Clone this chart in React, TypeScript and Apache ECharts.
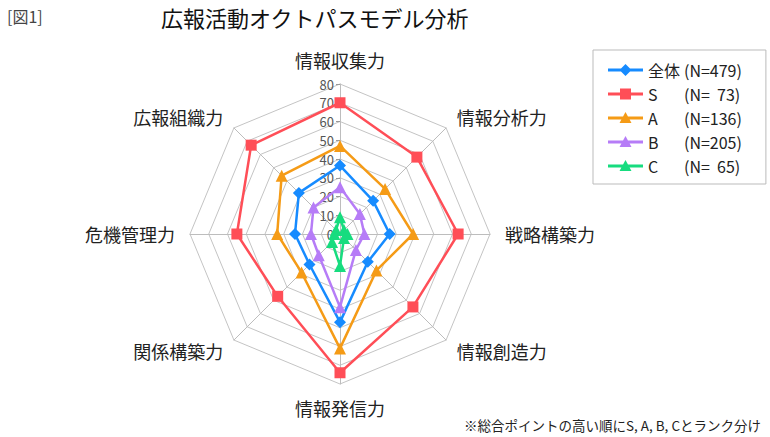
import React, { useEffect, useRef } from 'react'
import * as echarts from 'echarts'

// axes, counter-clockwise from the top (ECharts radar order)
const indicators = ['情報収集力', '広報組織力', '危機管理力', '関係構築力', '情報発信力', '情報創造力', '戦略構築力', '情報分析力']

const seriesNames = ['全体', 'S', 'A', 'B', 'C']
const seriesCounts = ['(N=479)', '(N=  73)', '(N=136)', '(N=205)', '(N=  65)']

const allValues = [36.5, 31, 24, 23, 47, 21, 26.5, 25]
const sValues = [70, 67, 55, 47, 74, 55, 63, 58]
const aValues = [47, 44, 33.5, 29, 61, 27.5, 39, 34]
const bValues = [25, 20, 15.5, 16, 39, 12, 13, 15]
const cValues = [9, 3, 3, 6, 17, 3, 4, 3]

const colors = ['#168BFF', '#FF4E57', '#F59B16', '#B67CF7', '#17DC7F']
const symbols = ['diamond', 'rect', 'triangle', 'triangle', 'triangle']
const symbolSizes = [12, 11, 12, 12, 12]

// legend icons: a line with the series marker on it
const LINE = 'M0,4.6 L35,4.6 L35,7.4 L0,7.4 Z '
const legendIcons = [
  'path://' + LINE + 'M17.5,0 L23.5,6 L17.5,12 L11.5,6 Z',
  'path://' + LINE + 'M12,0.5 L23,0.5 L23,11.5 L12,11.5 Z M0,0 L0,0.01 Z M0,12 L0,11.99 Z',
  'path://' + LINE + 'M17.5,0 L23.5,11 L11.5,11 Z M0,12 L0,11.99 Z',
  'path://' + LINE + 'M17.5,0 L23.5,11 L11.5,11 Z M0,12 L0,11.99 Z',
  'path://' + LINE + 'M17.5,0 L23.5,11 L11.5,11 Z M0,12 L0,11.99 Z'
]

const FONT = '"Noto Sans CJK JP", "Noto Sans", sans-serif'

const App: React.FC = () => {
  const chartRef = useRef<HTMLDivElement>(null)

  useEffect(() => {
    if (!chartRef.current) return
    const chart = echarts.init(chartRef.current, undefined, { renderer: 'svg' })

    const values = [allValues, sValues, aValues, bValues, cValues]

    const option: echarts.EChartsOption = {
      animation: false,
      textStyle: { fontFamily: FONT },
      title: [
        {
          text: '[図1]',
          left: 2,
          top: 3,
          textStyle: { fontSize: 16, fontWeight: 'normal', color: '#444', fontFamily: FONT }
        },
        {
          text: '広報活動オクトパスモデル分析',
          left: 156,
          top: 1,
          textStyle: { fontSize: 22, fontWeight: 'normal', color: '#111', fontFamily: FONT }
        },
        {
          text: '※総合ポイントの高い順にS, A, B, Cとランク分け',
          right: 4,
          top: 413,
          textStyle: { fontSize: 13.5, fontWeight: 'normal', color: '#222', fontFamily: FONT }
        }
      ],
      legend: {
        orient: 'vertical',
        left: 593,
        top: 50,
        width: 170,
        padding: [12, 24, 10, 15],
        borderColor: '#bbb',
        borderWidth: 1,
        itemWidth: 35,
        itemHeight: 12,
        itemGap: 8,
        data: seriesNames.map((name, i) => ({ name, icon: legendIcons[i] })),
        formatter: (name: string) => {
          const i = seriesNames.indexOf(name)
          return `{a|${name}}{b|${seriesCounts[i]}}`
        },
        textStyle: {
          fontFamily: FONT,
          color: '#222',
          rich: {
            a: { fontSize: 16, width: 36, color: '#222', fontFamily: FONT },
            b: { fontSize: 16, color: '#222', fontFamily: FONT }
          }
        }
      },
      radar: {
        center: [340, 234],
        radius: 150,
        startAngle: 90,
        splitNumber: 8,
        shape: 'polygon',
        indicator: indicators.map((name, i) =>
          i === 0
            ? {
                name,
                min: 0,
                max: 80,
                axisLabel: { show: true },
                axisTick: { show: true }
              }
            : { name, min: 0, max: 80 }
        ),
        axisName: { color: '#222', fontSize: 18, fontFamily: FONT },
        nameGap: 15,
        axisLine: { lineStyle: { color: '#bdbdbd', width: 1 } },
        splitLine: { lineStyle: { color: '#c4c4c4', width: 1 } },
        splitArea: { show: false },
        axisTick: { show: false, length: 4, lineStyle: { color: '#999' } },
        axisLabel: { show: false, color: '#555', fontSize: 13, fontFamily: FONT, margin: 6 }
      },
      series: [
        {
          type: 'radar',
          data: seriesNames.map((name, i) => ({
            name,
            value: values[i],
            symbol: symbols[i],
            symbolSize: symbolSizes[i],
            itemStyle: { color: colors[i] },
            lineStyle: { color: colors[i], width: 2.5 }
          }))
        }
      ]
    }

    chart.setOption(option)
    return () => {
      chart.dispose()
    }
  }, [])

  return (
    <div
      ref={chartRef}
      style={{ position: 'absolute', left: 0, top: 0, width: 770, height: 437, background: '#fff' }}
    />
  )
}

export default App
